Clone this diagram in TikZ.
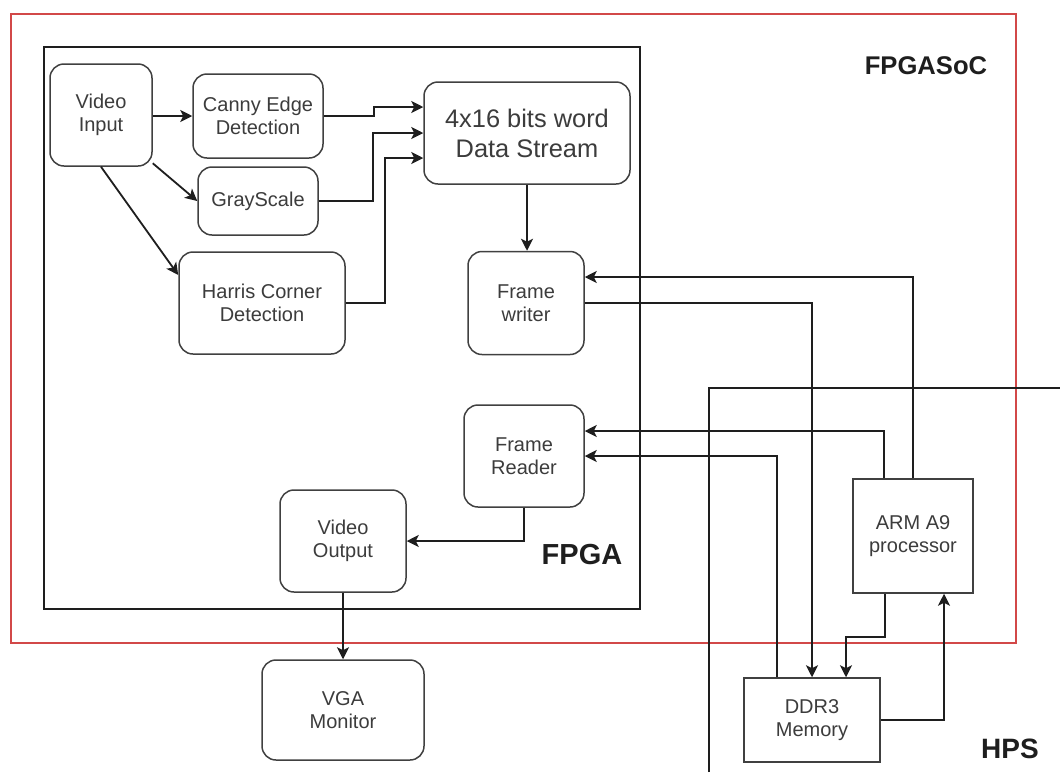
\documentclass[tikz,border=0pt]{standalone}
\usepackage{fontspec}
\setmainfont{Liberation Sans}
\usepackage{xcolor}
\usepackage{tikz}
\usetikzlibrary{positioning, arrows.meta}
\definecolor{ink}{HTML}{1E1E1E}
\definecolor{txt}{HTML}{3C3C3C}
\definecolor{socred}{HTML}{D24848}

\begin{document}
\begin{tikzpicture}[
  x=0.5pt, y=-0.5pt,
  bx/.style={draw=ink!85, line width=0.75pt, rounded corners=7pt, fill=white,
             font=\fontsize{10}{11.5}\selectfont, text=txt, align=center, inner sep=2pt},
  sq/.style={bx, rounded corners=0pt},
  ar/.style={draw=ink, line width=0.9pt, -{Stealth[length=6pt, width=6pt, inset=1.5pt]}},
  ln/.style={draw=ink, line width=0.9pt},
  tag/.style={font=\bfseries, text=ink}
]
  \useasboundingbox (0,0) rectangle (1060,772);

  \draw[draw=socred, line width=0.7pt] (11,14) rectangle (1016,643);
  \draw[ln] (44,47) rectangle (640,609);
  \draw[ln] (709,772) -- (709,388) -- (1060,388);

  \node[tag, font=\fontsize{12.8}{14}\bfseries] (soc) at (926,66) {FPGASoC};
  \node[tag, font=\fontsize{14.5}{16}\bfseries] (fpga) at (582,555) {FPGA};
  \node[tag, font=\fontsize{14}{16}\bfseries] (hps) at (1010,749) {HPS};

  \node[bx, minimum width=51pt, minimum height=51pt] (vin) at (101,115) {Video\\Input};
  \node[bx, minimum width=65pt, minimum height=42pt] (canny) at (258,116) {Canny Edge\\Detection};
  \node[bx, minimum width=60pt, minimum height=34pt] (gray) at (258,201) {GrayScale};
  \node[bx, minimum width=83pt, minimum height=51pt] (harris) at (262,303) {Harris Corner\\Detection};
  \node[bx, minimum width=103pt, minimum height=51pt, font=\fontsize{12.7}{15}\selectfont] (dstream) at (527,133) {4x16 bits word\\Data Stream};
  \node[bx, minimum width=58pt, minimum height=51.5pt] (fwr) at (526,303) {Frame\\writer};
  \node[bx, minimum width=60pt, minimum height=51pt] (frd) at (524,456) {Frame\\Reader};
  \node[bx, minimum width=63pt, minimum height=51pt] (vout) at (343,541) {Video\\Output};
  \node[bx, minimum width=81pt, minimum height=50pt] (vga) at (343,710) {VGA\\Monitor};
  \node[sq, minimum width=60pt, minimum height=57pt] (arm) at (913,536) {ARM A9\\processor};
  \node[sq, minimum width=68pt, minimum height=42pt] (ddr) at (812,720) {DDR3\\Memory};

  \draw[ar] (vin.east |- canny.west) -- (canny.west);
  \draw[ar] (vin.-43) -- (gray.west);
  \draw[ar] (vin.south) -- ([yshift=14pt]harris.west);
  \draw[ar] (canny.east) -- ++(50,0) |- ([yshift=13pt]dstream.west);
  \draw[ar] (gray.east) -- ++(54,0) |- (dstream.west);
  \draw[ar] (harris.east) -- ++(39,0) |- ([yshift=-12.5pt]dstream.west);
  \draw[ar] (dstream.south) -- (dstream.south |- fwr.north);

  \draw[ar] (arm.north) |- ([yshift=13pt]fwr.east);
  \draw[ar] (fwr.east) -| (ddr.north);
  \draw[ar] ([xshift=-14.5pt]arm.north) |- ([yshift=12.5pt]frd.east);
  \draw[ar] ([xshift=-17.5pt]ddr.north) |- (frd.east);
  \draw[ar] ([xshift=-14pt]arm.south) -- ++(0,43) -| ([xshift=17pt]ddr.north);
  \draw[ar] (ddr.east) -| ([xshift=15.5pt]arm.south);

  \draw[ar] (frd.south) |- (vout.east);
  \draw[ar] (vout.south) -- (vga.north);
\end{tikzpicture}
\end{document}
